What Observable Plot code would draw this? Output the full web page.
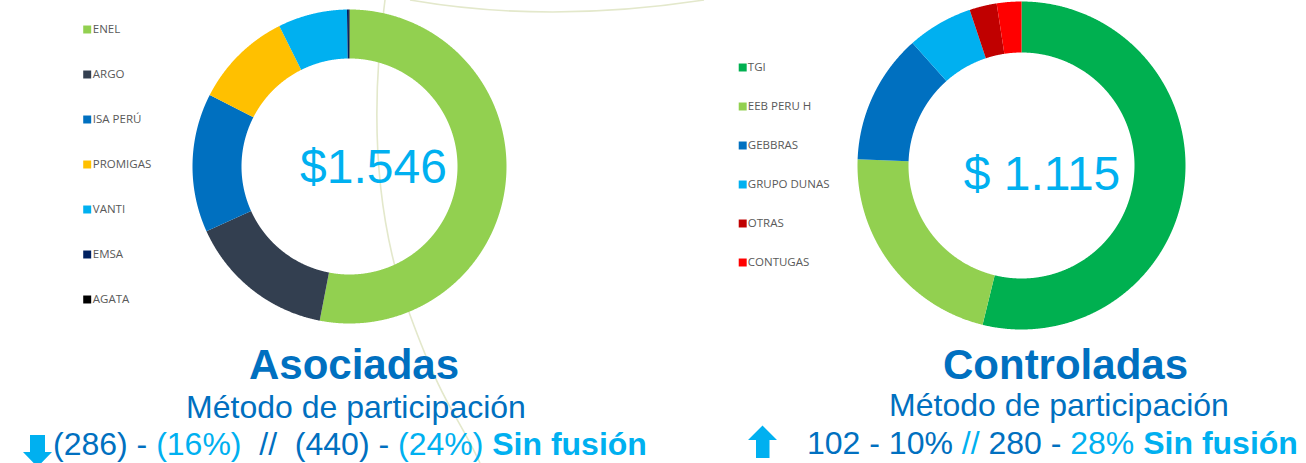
<!DOCTYPE html>
<html><head><meta charset="utf-8">
<script src="https://cdn.jsdelivr.net/npm/d3@7"></script>
<script src="https://cdn.jsdelivr.net/npm/@observablehq/plot@0.6"></script>
<style>
html,body{margin:0;padding:0;background:#fff;}
#page{position:relative;width:1306px;height:463px;overflow:hidden;font-family:"Liberation Sans",Arial,sans-serif;}
.abs{position:absolute;}
.txt{position:absolute;white-space:pre;line-height:1;}
.ctr{transform:translateX(-50%);}
.dk{color:#0070C0;}
.lt{color:#00B0F0;}
.b{font-weight:bold;}
</style></head><body><div id="page"></div>
<script>
// ---- Data ----
const asociadasNames = ["ENEL", "ARGO", "ISA PERÚ", "PROMIGAS", "VANTI", "EMSA", "AGATA"];
const asociadasValues = [820, 235, 221, 156, 110, 3, 1];
const asociadasColors = ["#92D050", "#333F50", "#0070C0", "#FFC000", "#00B0F0", "#002060", "#000000"];
const asociadasTotal = ["$1.546"];

const controladasNames = ["TGI", "EEB PERU H", "GEBBRAS", "GRUPO DUNAS", "OTRAS", "CONTUGAS"];
const controladasValues = [600, 243, 143, 72, 30, 27];
const controladasColors = ["#00B050", "#92D050", "#0070C0", "#00B0F0", "#C00000", "#FF0000"];
const controladasTotal = ["$ 1.115"];

const page = document.getElementById("page");

// decorative background arcs
const deco = document.createElementNS("http://www.w3.org/2000/svg", "svg");
deco.setAttribute("width", 1306); deco.setAttribute("height", 463);
deco.setAttribute("class", "abs"); deco.style.left = "0px"; deco.style.top = "0px";
deco.innerHTML = `<path d="M385,0 C370,110 375,220 410,315 S455,410 480,463" stroke="#E3E8CB" stroke-width="1.6" fill="none"/>
<path d="M410,0 Q548,24 704,0" stroke="#E3E8CB" stroke-width="1.6" fill="none"/>`;
page.appendChild(deco);

function slicePoints(names, values, rOuter, rInner) {
  const pie = d3.pie().sort(null).value(d => d.value)(names.map((n, i) => ({name: n, value: values[i]})));
  const pts = [];
  for (const s of pie) {
    const a0 = s.startAngle, a1 = s.endAngle;
    const n = Math.max(2, Math.ceil((a1 - a0) / (Math.PI / 720)));
    for (let k = 0; k <= n; k++) { const a = a0 + (a1 - a0) * k / n; pts.push({name: s.data.name, x: rOuter * Math.sin(a), y: rOuter * Math.cos(a)}); }
    for (let k = n; k >= 0; k--) { const a = a0 + (a1 - a0) * k / n; pts.push({name: s.data.name, x: rInner * Math.sin(a), y: rInner * Math.cos(a)}); }
  }
  return pts;
}

function donut(names, values, colors, label, R, r, half, dx, dy) {
  const pts = slicePoints(names, values, R, r);
  return Plot.plot({
    width: half * 2, height: half * 2, margin: 0,
    style: {background: "transparent", overflow: "visible"},
    x: {domain: [-half, half], axis: null},
    y: {domain: [-half, half], axis: null},
    color: {domain: names, range: colors},
    marks: [
      Plot.line(pts, {x: "x", y: "y", z: "name", fill: "name", stroke: "none"}),
      Plot.text(label, {x: () => 0, y: () => 0, text: d => d, dx, dy, fontSize: 48,
        fontFamily: "Liberation Sans, Arial, sans-serif", fill: "#00B0F0"})
    ]
  });
}

function legend(names, colors, xr, yr, w, h) {
  return Plot.plot({
    width: w, height: h, margin: 0,
    style: {background: "transparent", overflow: "visible"},
    x: {domain: [0, 1], range: xr, axis: null},
    y: {type: "point", domain: names, range: yr, padding: 0, align: 0.5, axis: null},
    color: {domain: names, range: colors},
    marks: [
      Plot.dot(names, {x: () => 0, y: d => d, symbol: "square", r: 4.5, fill: d => d, stroke: "none"}),
      Plot.text(names, {x: () => 1, y: d => d, text: d => d, textAnchor: "start", fill: "#595959",
        fontSize: 11.5, fontFamily: "Open Sans, sans-serif"})
    ]
  });
}

function place(el, left, top) {
  el.classList.add("abs"); el.style.left = left + "px"; el.style.top = top + "px";
  page.appendChild(el);
}

place(legend(asociadasNames, asociadasColors, [86.7, 92.3], [29.3, 299.3], 200, 320), 0, 0);
place(donut(asociadasNames, asociadasValues, asociadasColors, asociadasTotal, 157, 108, 160, 24, 1.3), 189, 6);

place(legend(controladasNames, controladasColors, [42.2, 47.3], [65.7, 262.7], 200, 300), 700, 0);
place(donut(controladasNames, controladasValues, controladasColors, controladasTotal, 164, 113, 168, 20.5, 9), 853, -3);

// titles and captions
function addText(html, left, top, size, cls) {
  const d = document.createElement("div");
  d.className = "txt " + (cls || "");
  d.style.left = left + "px"; d.style.top = top + "px"; d.style.fontSize = size + "px";
  d.innerHTML = html;
  page.appendChild(d);
}
addText('<span class="dk b">Asociadas</span>', 354, 344.4, 42, "ctr");
addText('<span class="dk">Método de participación</span>', 356, 390.9, 32, "ctr");
addText('<span class="dk">(286) - </span><span class="lt">(16%)</span><span class="dk">  //  (440) - </span><span class="lt">(24%) </span><span class="lt b">Sin fusión</span>', 53, 427.9, 32);

addText('<span class="dk b">Controladas</span>', 1065.5, 344.4, 42, "ctr");
addText('<span class="dk">Método de participación</span>', 1059, 389.4, 32, "ctr");
addText('<span class="dk">102 - 10% </span><span class="lt">//</span><span class="dk"> 280 - </span><span class="lt">28% </span><span class="lt b">Sin fusión</span>', 807, 426.9, 32);

// arrow icons
const icons = document.createElementNS("http://www.w3.org/2000/svg", "svg");
icons.setAttribute("width", 1306); icons.setAttribute("height", 463);
icons.setAttribute("class", "abs"); icons.style.left = "0px"; icons.style.top = "0px";
icons.style.pointerEvents = "none";
icons.innerHTML = `<polygon points="30,435 45,435 45,452 52,452 37.5,467 23,452 30,452" fill="#00B0F0"/>
<polygon points="762.5,425.5 777,440 769.5,440 769.5,458 756,458 756,440 748,440" fill="#00B0F0"/>`;
page.appendChild(icons);
</script>
</body></html>
